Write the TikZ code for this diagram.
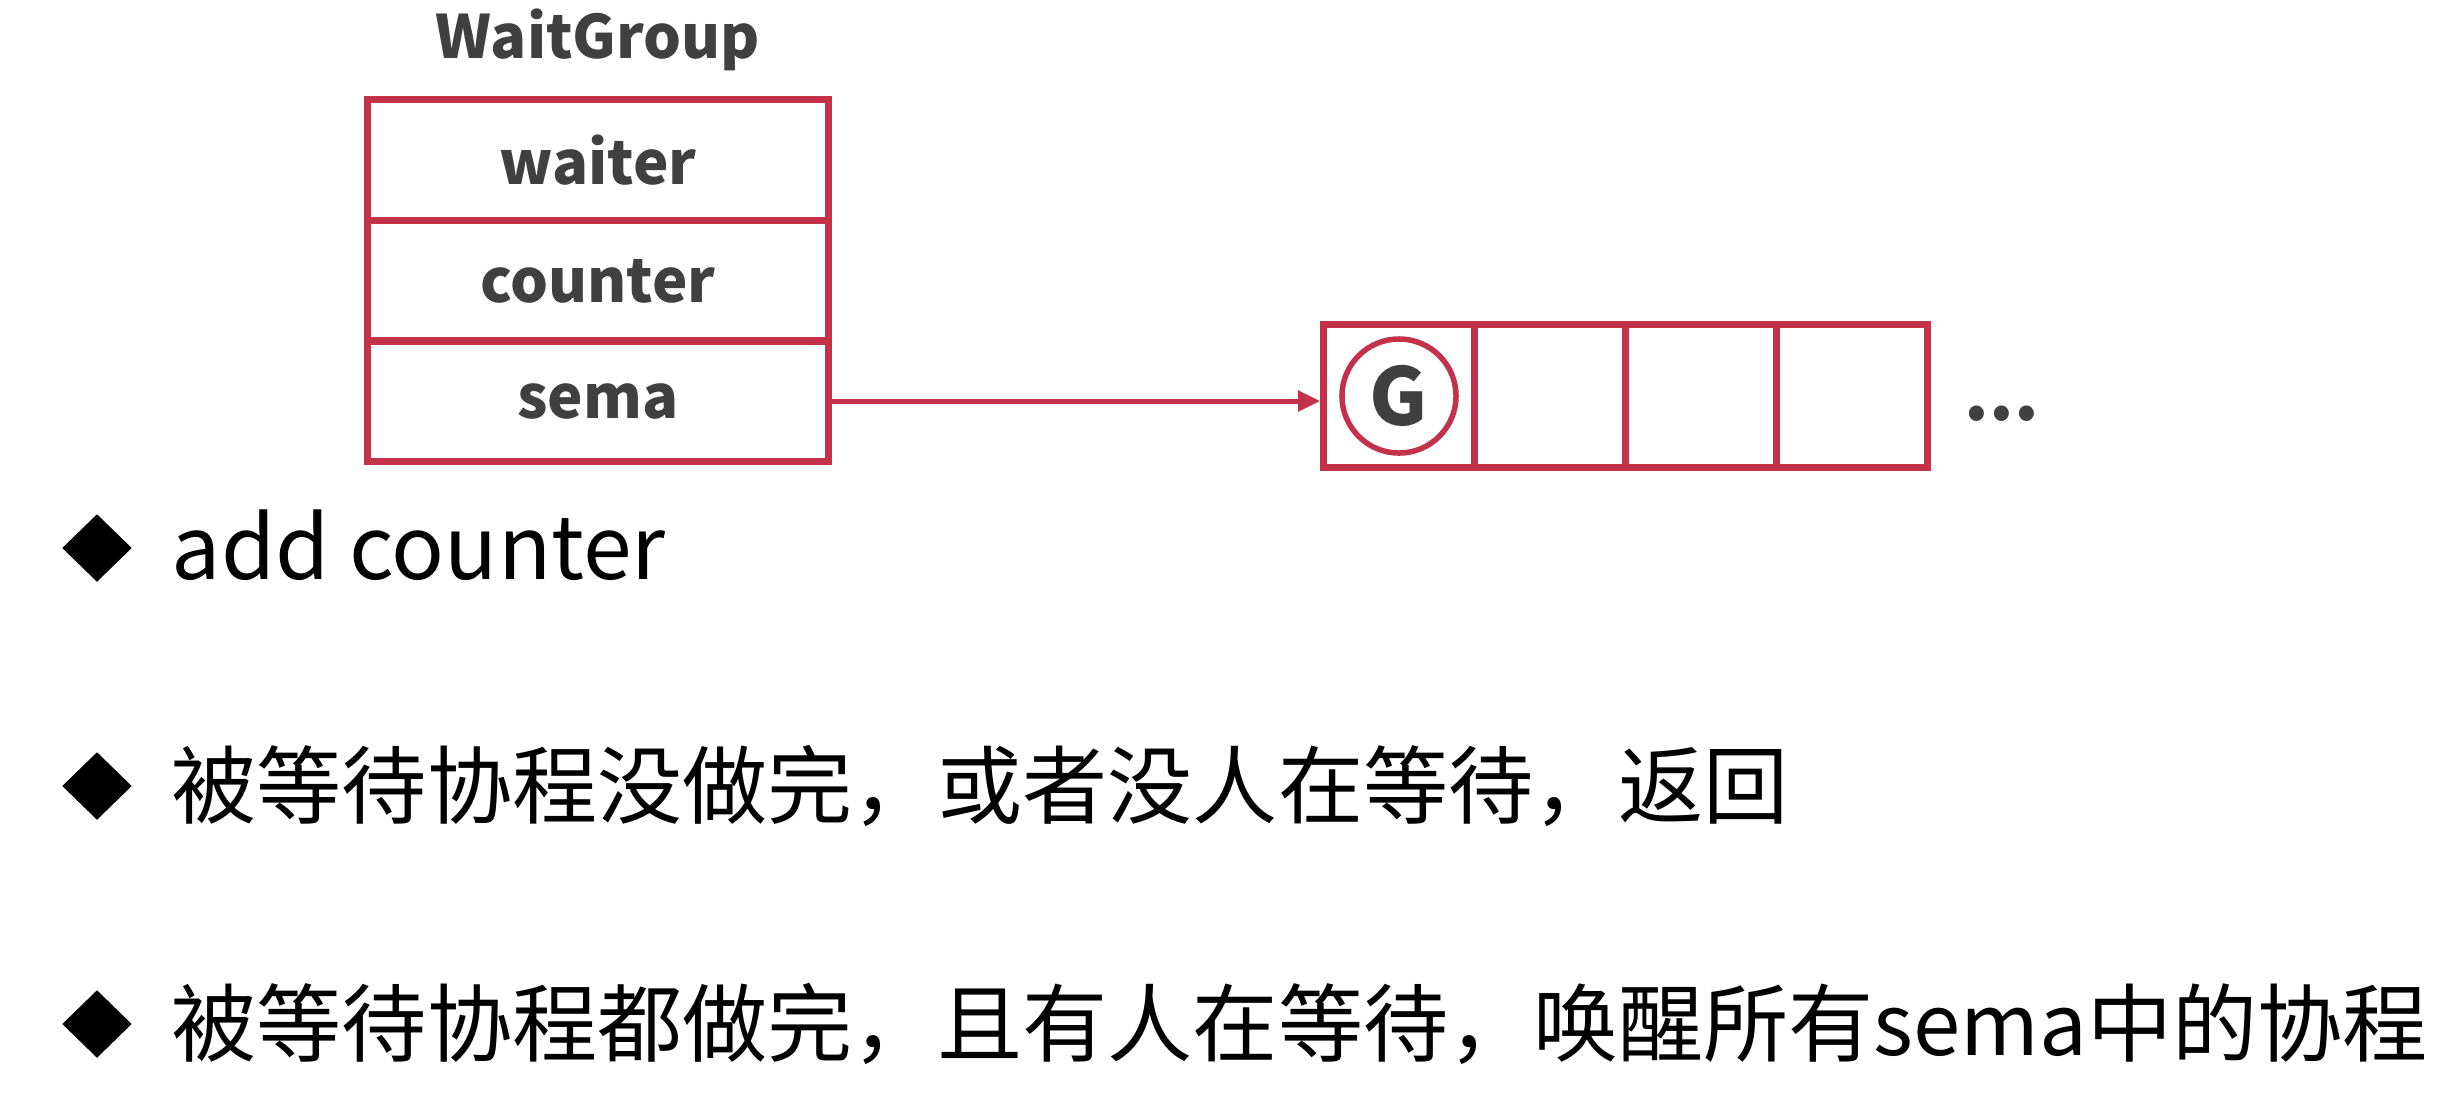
\documentclass[tikz,border=0pt]{standalone}
\usepackage{fontspec}
\setmainfont{Noto Sans CJK SC}
\usetikzlibrary{shapes.geometric,arrows.meta}
\definecolor{wgred}{RGB}{196,49,75}
\definecolor{wggray}{RGB}{64,64,64}
\begin{document}
\begin{tikzpicture}[x=0.01cm,y=-0.01cm,
  title/.style={inner sep=0, font=\fontsize{17}{20}\selectfont\bfseries, text=wggray},
  field/.style={draw=wgred, line width=0.07cm, minimum width=4.6cm, minimum height=1.21cm, inner sep=0, font=\fontsize{17}{20}\selectfont\bfseries, text=wggray},
  cell/.style={draw=wgred, line width=0.065cm, minimum width=1.51cm, minimum height=1.43cm, inner sep=0},
  gor/.style={circle, draw=wgred, line width=0.055cm, minimum size=1.14cm, inner sep=0, font=\fontsize{22.6}{26}\selectfont\bfseries, text=wggray},
  bullet/.style={diamond, fill=black, inner sep=0, minimum width=0.7cm, minimum height=0.68cm},
  line/.style={anchor=west, inner sep=0, font=\fontsize{24.2}{28}\selectfont, text=black},
  link/.style={draw=wgred, line width=0.05cm, -{Triangle[length=0.22cm,width=0.2cm]}}
]
\useasboundingbox[fill=white] (0,0) rectangle (2441,1099);
\node[title] (wg) at (598,40) {WaitGroup};
\node[field] (f1) at (598,160) {waiter};
\node[field] (f2) at (598,281) {counter};
\node[field] (f3) at (598,401) {sema};
\node[cell] (c1) at (1399,396) {};
\node[cell] (c2) at (1550,396) {};
\node[cell] (c3) at (1701,396) {};
\node[cell] (c4) at (1852,396) {};
\node[gor] (g) at (c1) {G};
\node[anchor=base, inner sep=0, font=\fontsize{20}{24}\selectfont\bfseries, text=wggray] (dots) at (2002,420) {...};
\draw[link] (f3.east) -- (f3.east -| c1.west);
\node[bullet] (b1) at (97,548) {};
\node[bullet] (b2) at (97,786) {};
\node[bullet] (b3) at (97,1024) {};
\node[line, font=\fontsize{24.9}{29}\selectfont] (t1) at (171,545) {add counter};
\node[line] (t2) at (171,786) {被等待协程没做完，或者没人在等待，返回};
\node[line] (t3) at (171,1024) {被等待协程都做完，且有人在等待，唤醒所有sema中的协程};
\end{tikzpicture}
\end{document}
